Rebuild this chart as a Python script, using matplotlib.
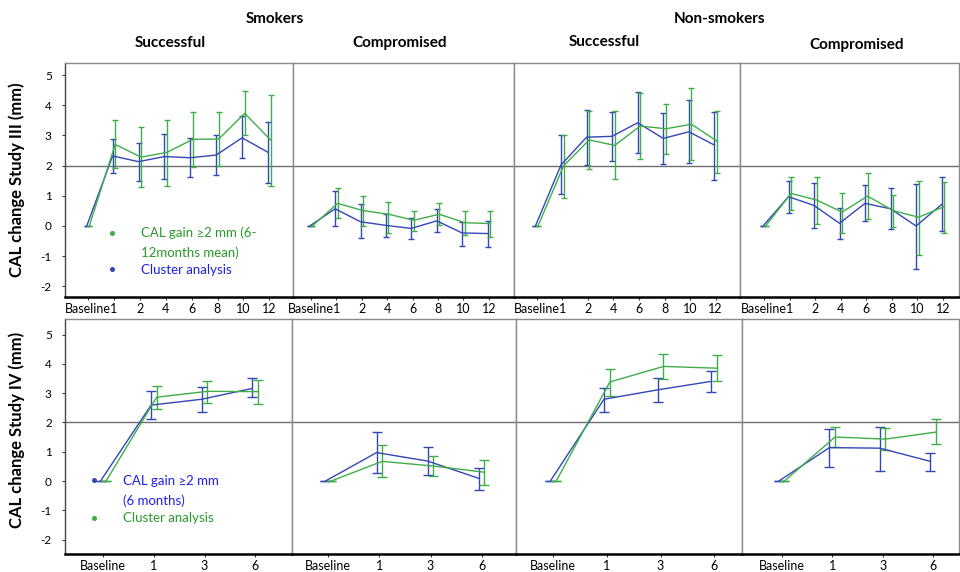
import matplotlib
matplotlib.use("Agg")
import matplotlib.pyplot as plt
import numpy as np

plt.rcParams['font.family'] = ['Lato', 'DejaVu Sans']

# ---------------- data ----------------
cats_III = ["Baseline", "1", "2", "4", "6", "8", "10", "12"]
cats_IV = ["Baseline", "1", "3", "6"]

# Study III (top row): green = CAL gain >=2 mm, blue = cluster analysis
s_succ_III_green_mean = [0, 2.70, 2.28, 2.44, 2.87, 2.88, 3.73, 2.85]
s_succ_III_green_lo = [0, 1.91, 1.29, 1.32, 1.94, 1.99, 3.01, 1.32]
s_succ_III_green_hi = [0, 3.51, 3.27, 3.52, 3.76, 3.76, 4.48, 4.34]
s_succ_III_blue_mean = [0, 2.32, 2.13, 2.30, 2.26, 2.35, 2.92, 2.44]
s_succ_III_blue_lo = [0, 1.74, 1.49, 1.56, 1.61, 1.70, 2.24, 1.42]
s_succ_III_blue_hi = [0, 2.89, 2.74, 3.05, 2.91, 3.01, 3.63, 3.43]

s_comp_III_green_mean = [0, 0.75, 0.51, 0.39, 0.19, 0.39, 0.11, 0.08]
s_comp_III_green_lo = [0, 0.25, 0.01, -0.22, -0.18, 0.02, -0.30, -0.35]
s_comp_III_green_hi = [0, 1.26, 0.99, 0.78, 0.51, 0.75, 0.51, 0.51]
s_comp_III_blue_mean = [0, 0.57, 0.14, 0.02, -0.08, 0.17, -0.23, -0.25]
s_comp_III_blue_lo = [0, 0.00, -0.41, -0.37, -0.43, -0.21, -0.65, -0.71]
s_comp_III_blue_hi = [0, 1.15, 0.72, 0.41, 0.25, 0.55, 0.14, 0.18]

n_succ_III_green_mean = [0, 1.99, 2.85, 2.67, 3.31, 3.22, 3.37, 2.81]
n_succ_III_green_lo = [0, 0.92, 1.88, 1.55, 2.23, 2.39, 2.20, 1.74]
n_succ_III_green_hi = [0, 3.02, 3.82, 3.82, 4.39, 4.04, 4.56, 3.80]
n_succ_III_blue_mean = [0, 2.02, 2.94, 2.97, 3.42, 2.90, 3.12, 2.68]
n_succ_III_blue_lo = [0, 1.07, 2.03, 2.15, 2.41, 2.06, 2.07, 1.52]
n_succ_III_blue_hi = [0, 3.02, 3.83, 3.79, 4.45, 3.73, 4.17, 3.76]

n_comp_III_green_mean = [0, 1.08, 0.86, 0.46, 0.99, 0.51, 0.29, 0.64]
n_comp_III_green_lo = [0, 0.52, 0.06, -0.22, 0.23, -0.02, -0.96, -0.22]
n_comp_III_green_hi = [0, 1.63, 1.63, 1.08, 1.74, 1.02, 1.50, 1.47]
n_comp_III_blue_mean = [0, 0.97, 0.68, 0.09, 0.75, 0.57, 0.00, 0.71]
n_comp_III_blue_lo = [0, 0.42, -0.07, -0.44, 0.16, -0.11, -1.43, -0.16]
n_comp_III_blue_hi = [0, 1.50, 1.41, 0.60, 1.37, 1.27, 1.38, 1.61]

# Study IV (bottom row): blue = CAL gain >=2 mm, green = cluster analysis
s_succ_IV_blue_mean = [0, 2.59, 2.79, 3.16]
s_succ_IV_blue_lo = [0, 2.12, 2.35, 2.86]
s_succ_IV_blue_hi = [0, 3.06, 3.20, 3.50]
s_succ_IV_green_mean = [0, 2.86, 3.06, 3.05]
s_succ_IV_green_lo = [0, 2.45, 2.65, 2.63]
s_succ_IV_green_hi = [0, 3.25, 3.42, 3.45]

s_comp_IV_blue_mean = [0, 0.97, 0.68, 0.09]
s_comp_IV_blue_lo = [0, 0.27, 0.20, -0.32]
s_comp_IV_blue_hi = [0, 1.66, 1.15, 0.43]
s_comp_IV_green_mean = [0, 0.67, 0.51, 0.30]
s_comp_IV_green_lo = [0, 0.13, 0.16, -0.14]
s_comp_IV_green_hi = [0, 1.23, 0.86, 0.72]

n_succ_IV_blue_mean = [0, 2.79, 3.11, 3.40]
n_succ_IV_blue_lo = [0, 2.37, 2.71, 3.04]
n_succ_IV_blue_hi = [0, 3.18, 3.52, 3.74]
n_succ_IV_green_mean = [0, 3.38, 3.91, 3.85]
n_succ_IV_green_lo = [0, 2.90, 3.47, 3.41]
n_succ_IV_green_hi = [0, 3.81, 4.34, 4.29]

n_comp_IV_blue_mean = [0, 1.14, 1.12, 0.67]
n_comp_IV_blue_lo = [0, 0.48, 0.34, 0.34]
n_comp_IV_blue_hi = [0, 1.77, 1.85, 0.97]
n_comp_IV_green_mean = [0, 1.50, 1.43, 1.67]
n_comp_IV_green_lo = [0, 1.15, 1.06, 1.25]
n_comp_IV_green_hi = [0, 1.85, 1.80, 2.10]

threshold = 2
yticks = [-2, -1, 0, 1, 2, 3, 4, 5]

group_titles = ["Smokers", "Non-smokers"]
panel_titles = ["Successful", "Compromised", "Successful", "Compromised"]
ylabels = ["CAL change Study III (mm)", "CAL change Study IV (mm)"]
legend_III = ["CAL gain \u22652 mm (6-\n12months mean)", "Cluster analysis"]
legend_IV = ["CAL gain \u22652 mm\n(6 months)", "Cluster analysis"]

# ---------------- style ----------------
GREEN = "#3fae49"
BLUE = "#3347b5"
GREEN_T = "#2a9a2a"
BLUE_T = "#1f1fe6"
FRAME = "#8a8a8a"

W, H = 960, 572
fig = plt.figure(figsize=(W / 100, H / 100), dpi=100)


def fx(x):
    return x / W


def fy(y):
    return 1 - y / H


# panel layout in pixels: left, right, top, bottom, baseline x px, x spacing px, zero y px, px per mm
top_layout = dict(top=63, bottom=297, y0=226, per=30.2)
bot_layout = dict(top=319, bottom=554, y0=481, per=29.3)
top_cols = [(65, 293, 88, 25.9), (293, 514, 311, 25.4), (514, 740, 536.7, 25.57), (740, 959, 764.3, 25.5)]
bot_cols = [(65, 292, 103.3, 50.6), (292, 516, 328.3, 51.1), (516, 742, 553.3, 53.6), (742, 959, 781.7, 50.5)]

top_series = [
    ((s_succ_III_green_mean, s_succ_III_green_lo, s_succ_III_green_hi), (s_succ_III_blue_mean, s_succ_III_blue_lo, s_succ_III_blue_hi)),
    ((s_comp_III_green_mean, s_comp_III_green_lo, s_comp_III_green_hi), (s_comp_III_blue_mean, s_comp_III_blue_lo, s_comp_III_blue_hi)),
    ((n_succ_III_green_mean, n_succ_III_green_lo, n_succ_III_green_hi), (n_succ_III_blue_mean, n_succ_III_blue_lo, n_succ_III_blue_hi)),
    ((n_comp_III_green_mean, n_comp_III_green_lo, n_comp_III_green_hi), (n_comp_III_blue_mean, n_comp_III_blue_lo, n_comp_III_blue_hi)),
]
bot_series = [
    ((s_succ_IV_green_mean, s_succ_IV_green_lo, s_succ_IV_green_hi), (s_succ_IV_blue_mean, s_succ_IV_blue_lo, s_succ_IV_blue_hi)),
    ((s_comp_IV_green_mean, s_comp_IV_green_lo, s_comp_IV_green_hi), (s_comp_IV_blue_mean, s_comp_IV_blue_lo, s_comp_IV_blue_hi)),
    ((n_succ_IV_green_mean, n_succ_IV_green_lo, n_succ_IV_green_hi), (n_succ_IV_blue_mean, n_succ_IV_blue_lo, n_succ_IV_blue_hi)),
    ((n_comp_IV_green_mean, n_comp_IV_green_lo, n_comp_IV_green_hi), (n_comp_IV_blue_mean, n_comp_IV_blue_lo, n_comp_IV_blue_hi)),
]


def make_panel(col, lay, cats, series, first, offset, capsize):
    left, right, bx, dx = col
    ax = fig.add_axes([fx(left), fy(lay['bottom']), fx(right) - fx(left), fy(lay['top']) - fy(lay['bottom'])])
    ax.set_xlim((left - bx) / dx, (right - bx) / dx)
    ax.set_ylim((lay['y0'] - lay['bottom']) / lay['per'], (lay['y0'] - lay['top']) / lay['per'])
    ax.axhline(threshold, color="#6e6e6e", lw=1.0, zorder=1)
    x = np.arange(len(cats))
    (gm, gl, gh), (bm, bl, bh) = series
    for m, lo, hi, c, off in ((bm, bl, bh, BLUE, -offset), (gm, gl, gh, GREEN, offset)):
        m = np.asarray(m, float)
        lo = np.asarray(lo, float)
        hi = np.asarray(hi, float)
        ax.errorbar(x + off, m, yerr=[m - lo, hi - m], color=c, lw=1.0, elinewidth=1.0,
                    capsize=capsize, capthick=1.0, zorder=3)
    ax.set_xticks(x)
    ax.set_xticklabels(cats, fontsize=9)
    ax.tick_params(axis='x', length=2, pad=2, color='#333333')
    if first:
        ax.set_yticks(yticks)
        ax.set_yticklabels([str(t) for t in yticks], fontsize=8.5)
        ax.tick_params(axis='y', length=2.5, pad=7, color='#333333')
    else:
        ax.set_yticks([])
    for s in ('top', 'right', 'left'):
        ax.spines[s].set_color(FRAME)
        ax.spines[s].set_linewidth(1.0)
    if first:
        ax.spines['left'].set_color('#444444')
    ax.spines['bottom'].set_color('black')
    ax.spines['bottom'].set_linewidth(1.8)
    return ax


top_axes = [make_panel(c, top_layout, cats_III, s, i == 0, 0.05, 2.4) for i, (c, s) in enumerate(zip(top_cols, top_series))]
bot_axes = [make_panel(c, bot_layout, cats_IV, s, i == 0, 0.055, 3.6) for i, (c, s) in enumerate(zip(bot_cols, bot_series))]

# headers
fig.text(fx(275), fy(19), group_titles[0], ha='center', va='center', fontsize=11, fontweight='bold')
fig.text(fx(720), fy(19), group_titles[1], ha='center', va='center', fontsize=11, fontweight='bold')
for xc, yc, t in zip([170, 400, 604, 857], [43, 43, 42, 45], panel_titles):
    fig.text(fx(xc), fy(yc), t, ha='center', va='center', fontsize=11, fontweight='bold')

fig.text(fx(17), fy(180), ylabels[0], rotation=90, ha='center', va='center', fontsize=12, fontweight='bold')
fig.text(fx(17), fy(430), ylabels[1], rotation=90, ha='center', va='center', fontsize=12, fontweight='bold')

# legends (figure-pixel placed)
def dot(x, y, c):
    fig.add_artist(plt.Line2D([fx(x)], [fy(y)], marker='o', ms=2.6, color=c, lw=0))

dot(112, 233, GREEN)
fig.text(fx(141), fy(233), legend_III[0].split("\n")[0], color=GREEN_T, fontsize=9.5, va='center')
fig.text(fx(141), fy(253), legend_III[0].split("\n")[1], color=GREEN_T, fontsize=9.5, va='center')
dot(112, 269, BLUE)
fig.text(fx(141), fy(270), legend_III[1], color=BLUE_T, fontsize=9.5, va='center')

dot(94, 480, BLUE)
fig.text(fx(123), fy(481), legend_IV[0].split("\n")[0], color=BLUE_T, fontsize=9.5, va='center')
fig.text(fx(123), fy(501), legend_IV[0].split("\n")[1], color=BLUE_T, fontsize=9.5, va='center')
dot(94, 518, GREEN)
fig.text(fx(123), fy(518), legend_IV[1], color=GREEN_T, fontsize=9.5, va='center')

fig.savefig("out.png", dpi=100)
